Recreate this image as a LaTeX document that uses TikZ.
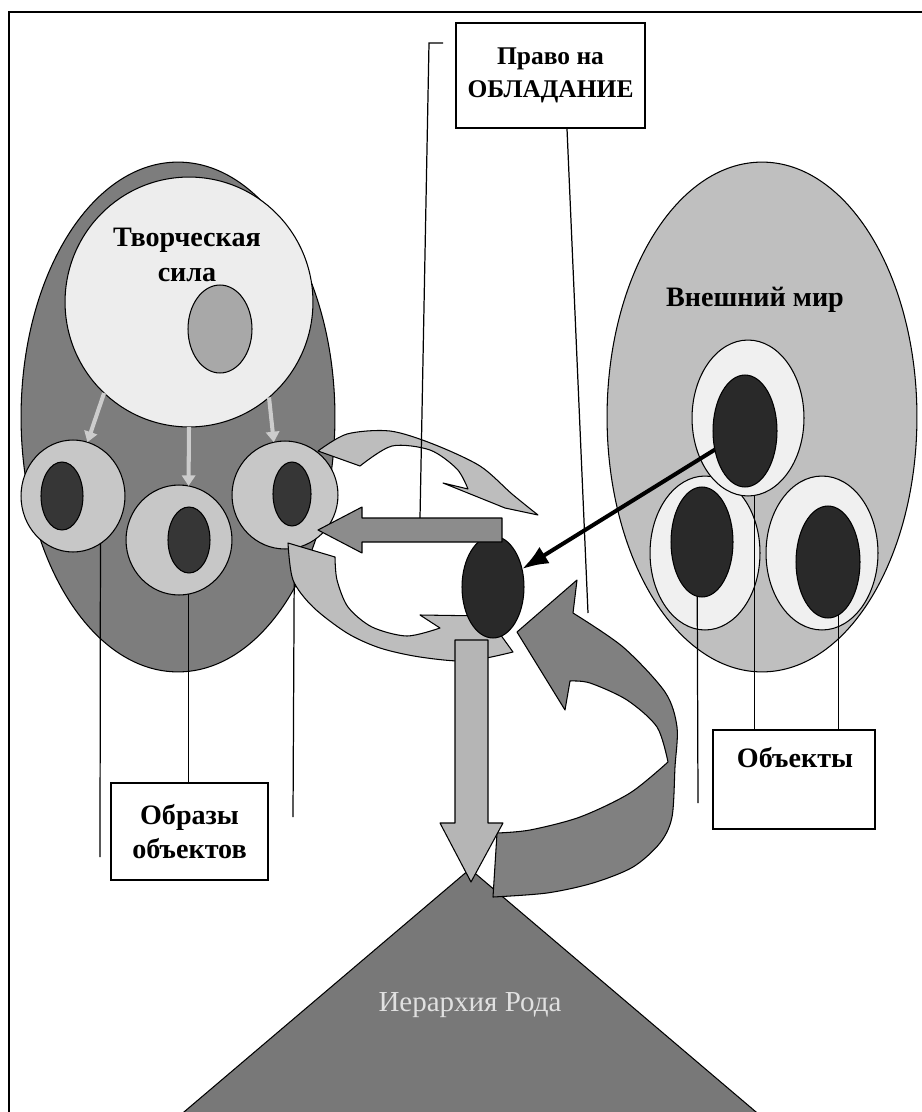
\documentclass[tikz,border=0pt]{standalone}
\usepackage{fontspec}
\setmainfont{Liberation Serif}
\usetikzlibrary{shapes.geometric, arrows.meta}

\definecolor{bodygray}{gray}{0.49}
\definecolor{forcewhite}{gray}{0.93}
\definecolor{seedgray}{gray}{0.66}
\definecolor{ringgray}{gray}{0.78}
\definecolor{coredark}{gray}{0.21}
\definecolor{worldgray}{gray}{0.75}
\definecolor{objwhite}{gray}{0.94}
\definecolor{coreblack}{gray}{0.16}
\definecolor{lightcurve}{gray}{0.74}
\definecolor{hbar}{gray}{0.55}
\definecolor{loopgray}{gray}{0.50}
\definecolor{downgray}{gray}{0.71}
\definecolor{pyramidgray}{gray}{0.47}
\definecolor{hintgray}{gray}{0.80}

\newcommand{\tagfont}{\bfseries\fontsize{16}{19.5}\selectfont}

\begin{document}
\begin{tikzpicture}[x=0.02cm, y=-0.02cm,
    blob/.style n args={3}{ellipse, draw, line width=0.6pt, fill=#3,
        inner sep=0pt, outer sep=0pt,
        minimum width=#1*0.04cm, minimum height=#2*0.04cm},
    tag/.style={rectangle, draw, line width=0.8pt, fill=white,
        inner sep=0pt, font=\tagfont, align=center},
    lbl/.style={font=\tagfont, align=center},
    leader/.style={line width=0.7pt},
    block/.style={draw, line width=0.6pt, line join=round},
    hint/.style={draw=hintgray, line width=2.3pt,
        -{Triangle[length=6pt, width=7.5pt]}}
]
    \useasboundingbox (0,0) rectangle (922,1112);
    \clip (0,0) rectangle (922,1112);

    % frame
    \draw[line width=1.6pt] (922,12) -- (9,12) -- (9,1112);

    % labels in boxes
    \node[tag, minimum width=189*0.02cm, minimum height=105*0.02cm,
        font=\bfseries\fontsize{14.5}{19}\selectfont]
        (pravo) at (550.5,75.5) {Право на\\ОБЛАДАНИЕ};
    \node[tag, minimum width=157*0.02cm, minimum height=97*0.02cm]
        (images) at (189.5,831.5) {Образы\\объектов};
    \node[tag, minimum width=162*0.02cm, minimum height=99*0.02cm]
        (objbox) at (794,779.5) {};
    \node[lbl] (objtxt) at (795,758) {Объекты};

    \coordinate (bend) at (588,613);
    \draw[leader] ([xshift=0.33cm]pravo.south) -- (bend);

    % creative force
    \node[blob={157}{255}{bodygray}] (body) at (178,417) {};
    \node[blob={124}{125}{forcewhite}] (force) at (189,302) {};
    \node[blob={32}{44}{seedgray}] (seed) at (220,329) {};
    \node[lbl] (forcetxt) at (187,255) {Творческая\\сила};

    \node[blob={52}{56}{ringgray}] (img1) at (73,496) {};
    \node[blob={21}{34}{coredark}] (core1) at (62,496) {};
    \node[blob={53}{55}{ringgray}] (img2) at (179,540) {};
    \node[blob={21}{33}{coredark}] (core2) at (189,540) {};
    \node[blob={53}{54}{ringgray}] (img3) at (285,495) {};
    \node[blob={19}{32}{coredark}] (core3) at (292,494) {};

    \draw[hint] (force.227) -- (img1.75);
    \draw[hint] (force.270) -- (img2.80);
    \draw[hint] (force.310) -- (img3.102);

    \coordinate (foot1) at (100,857);
    \coordinate (foot3) at (293,817);
    \draw[leader] (img1.300) -- (foot1);
    \draw[leader] (img2.280) -- (img2.280 |- images.north);
    \draw[leader] (img3.280) -- (foot3);

    % outer world
    \node[blob={155}{255}{worldgray}] (world) at (762,417) {};
    \node[lbl] (worldtxt) at (755,300) {Внешний мир};
    \node[blob={55}{77}{objwhite}] (objl) at (705,553) {};
    \node[blob={56}{77}{objwhite}] (objr) at (822,553) {};
    \node[blob={56}{78}{objwhite}] (objt) at (748,418) {};
    \node[blob={32}{56}{coreblack}] (okt) at (745,431) {};
    \node[blob={31}{55}{coreblack}] (okl) at (702,542) {};
    \node[blob={32}{56}{coreblack}] (okr) at (828,562) {};

    \coordinate (objfoot) at (698,803);
    \draw[leader] (okl.265) -- (objfoot);
    \draw[leader] (objt.275) -- (objt.275 |- objbox.north);
    \draw[leader] (okr.281) -- (okr.281 |- objbox.north);

    % exchange loop
    \filldraw[block, fill=lightcurve]
        plot[smooth] coordinates {(318,451) (347,434) (390,431) (433,444)
            (480,466) (512,494) (538,515)}
        -- (505,508) -- (443,483) -- (468,489)
        -- plot[smooth] coordinates {(468,489) (457,469) (430,450)
            (392,446) (360,466)}
        -- cycle;
    \filldraw[block, fill=lightcurve]
        plot[smooth] coordinates {(288,543) (293,580) (313,607) (347,633)
            (380,648) (420,657) (467,661) (513,652)}
        -- (487,616) -- (420,615) -- (440,628)
        -- plot[smooth] coordinates {(440,628) (407,636) (372,627)
            (348,607) (337,580) (335,557)}
        -- cycle;

    \draw[leader] (443,43) -- (429,43) -- (420,518);

    \node[blob={31}{51}{coreblack}] (focus) at (493,587) {};

    \filldraw[block, fill=hbar] (502,518) -- (362,518) -- (362,507)
        -- (318,530) -- (362,553) -- (362,542) -- (502,542) -- cycle;

    % hierarchy
    \filldraw[block, fill=pyramidgray] (470,869) -- (789,1140)
        -- (151,1140) -- cycle;
    \node[font=\fontsize{16.5}{19}\selectfont, text=white!88!black]
        (rodtxt) at (470,1005) {Иерархия Рода};

    \filldraw[block, fill=loopgray] (517,632) -- (577,580) -- (573,613)
        -- plot[smooth] coordinates {(573,613) (623,647) (665,692)
            (677,727) (675,767) (672,817) (660,843) (633,867) (593,883)
            (547,893) (493,897)}
        -- (497,833)
        -- plot[smooth] coordinates {(497,833) (530,830) (580,817)
            (630,793) (668,762)}
        -- plot[smooth] coordinates {(668,762) (657,727) (627,700)
            (590,683) (570,681)}
        -- (565,710) -- cycle;

    \filldraw[block, fill=downgray] (455,640) -- (488,640) -- (488,823)
        -- (503,823) -- (471,882) -- (440,823) -- (455,823) -- cycle;

    \draw[line width=2.3pt, -{Latex[length=15pt, width=11pt]}]
        (okt) -- (focus);
\end{tikzpicture}
\end{document}
